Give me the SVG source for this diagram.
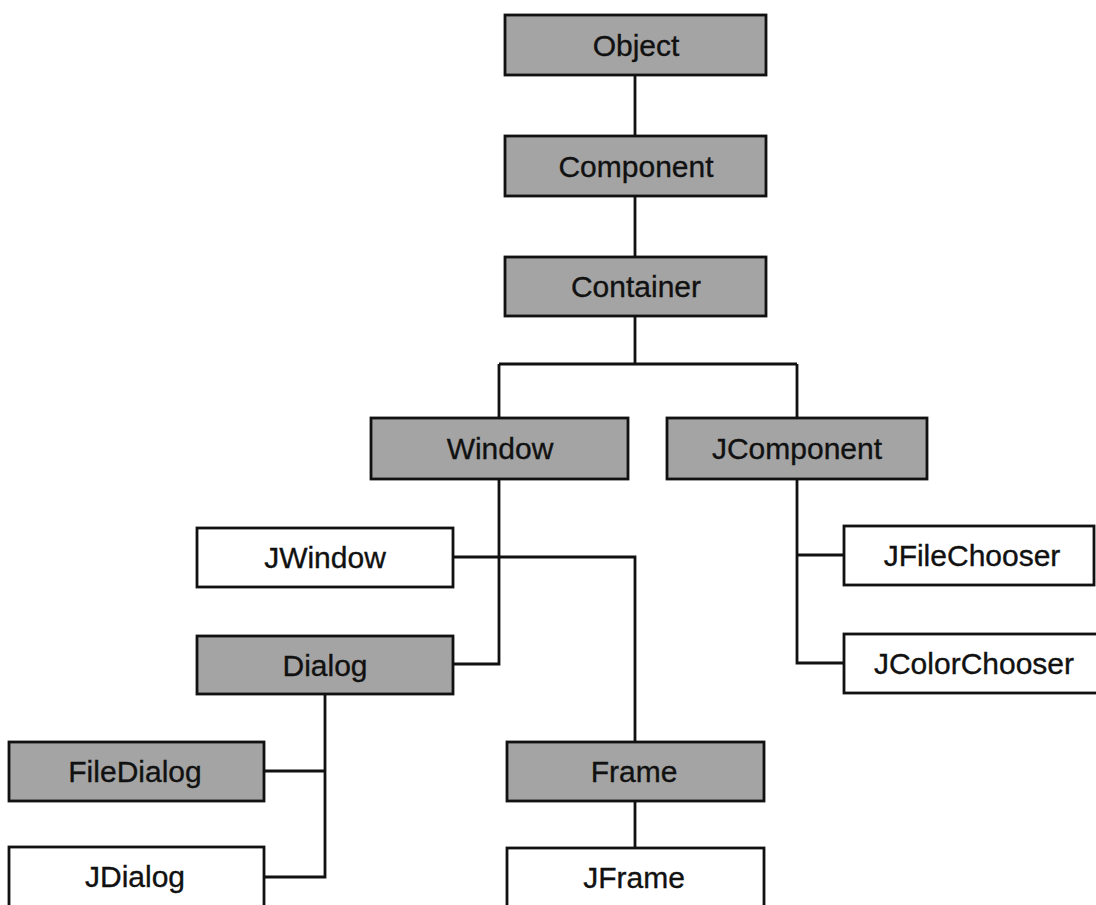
<svg xmlns="http://www.w3.org/2000/svg" width="1096" height="905" viewBox="0 0 1096 905">
  <style>
    .box { stroke: #111111; stroke-width: 2.8; }
    .abstract { fill: #a4a4a4; }
    .swing { fill: #ffffff; }
    .label { font-family: "Liberation Sans", Arial, sans-serif; font-size: 30px; fill: #111111; stroke: #111111; stroke-width: 0.35; text-anchor: middle; }
    .link { fill: none; stroke: #111111; stroke-width: 2.8; stroke-linejoin: miter; }
  </style>
  <rect width="1096" height="905" fill="#ffffff"/>

  <!-- inheritance lines -->
  <g id="connectors">
    <path class="link" d="M635 75 V136"/>
    <path class="link" d="M635 196 V257"/>
    <path class="link" d="M635 316 V364 M499 364 H797 M499 364 V418 M797 364 V418"/>
    <path class="link" d="M499 479 V664 H453"/>
    <path class="link" d="M453 557 H635 V742"/>
    <path class="link" d="M797 479 V663 H844 M797 555 H844"/>
    <path class="link" d="M325 694 V877 H264 M325 771 H264"/>
    <path class="link" d="M635 801 V848"/>
  </g>

  <g id="node-object">
    <rect class="box abstract" x="505" y="15" width="261" height="60"/>
    <text class="label" x="636" y="56">Object</text>
  </g>
  <g id="node-component">
    <rect class="box abstract" x="505" y="136" width="261" height="60"/>
    <text class="label" x="636" y="177">Component</text>
  </g>
  <g id="node-container">
    <rect class="box abstract" x="505" y="257" width="261" height="59"/>
    <text class="label" x="636" y="297">Container</text>
  </g>
  <g id="node-window">
    <rect class="box abstract" x="371" y="418" width="257" height="61"/>
    <text class="label" x="500" y="459">Window</text>
  </g>
  <g id="node-jcomponent">
    <rect class="box abstract" x="667" y="418" width="260" height="61"/>
    <text class="label" x="797" y="459">JComponent</text>
  </g>
  <g id="node-jwindow">
    <rect class="box swing" x="197" y="528" width="256" height="59"/>
    <text class="label" x="325" y="568">JWindow</text>
  </g>
  <g id="node-dialog">
    <rect class="box abstract" x="197" y="636" width="256" height="58"/>
    <text class="label" x="325" y="676">Dialog</text>
  </g>
  <g id="node-jfilechooser">
    <rect class="box swing" x="844" y="526" width="250" height="59"/>
    <text class="label" x="972" y="566">JFileChooser</text>
  </g>
  <g id="node-jcolorchooser">
    <rect class="box swing" x="844" y="634" width="258" height="59"/>
    <text class="label" x="974" y="674">JColorChooser</text>
  </g>
  <g id="node-filedialog">
    <rect class="box abstract" x="9" y="742" width="255" height="59"/>
    <text class="label" x="135" y="782">FileDialog</text>
  </g>
  <g id="node-frame">
    <rect class="box abstract" x="507" y="742" width="257" height="59"/>
    <text class="label" x="634" y="782">Frame</text>
  </g>
  <g id="node-jdialog">
    <rect class="box swing" x="9" y="847" width="255" height="60"/>
    <text class="label" x="135" y="887">JDialog</text>
  </g>
  <g id="node-jframe">
    <rect class="box swing" x="507" y="848" width="257" height="60"/>
    <text class="label" x="634" y="888">JFrame</text>
  </g>
</svg>
